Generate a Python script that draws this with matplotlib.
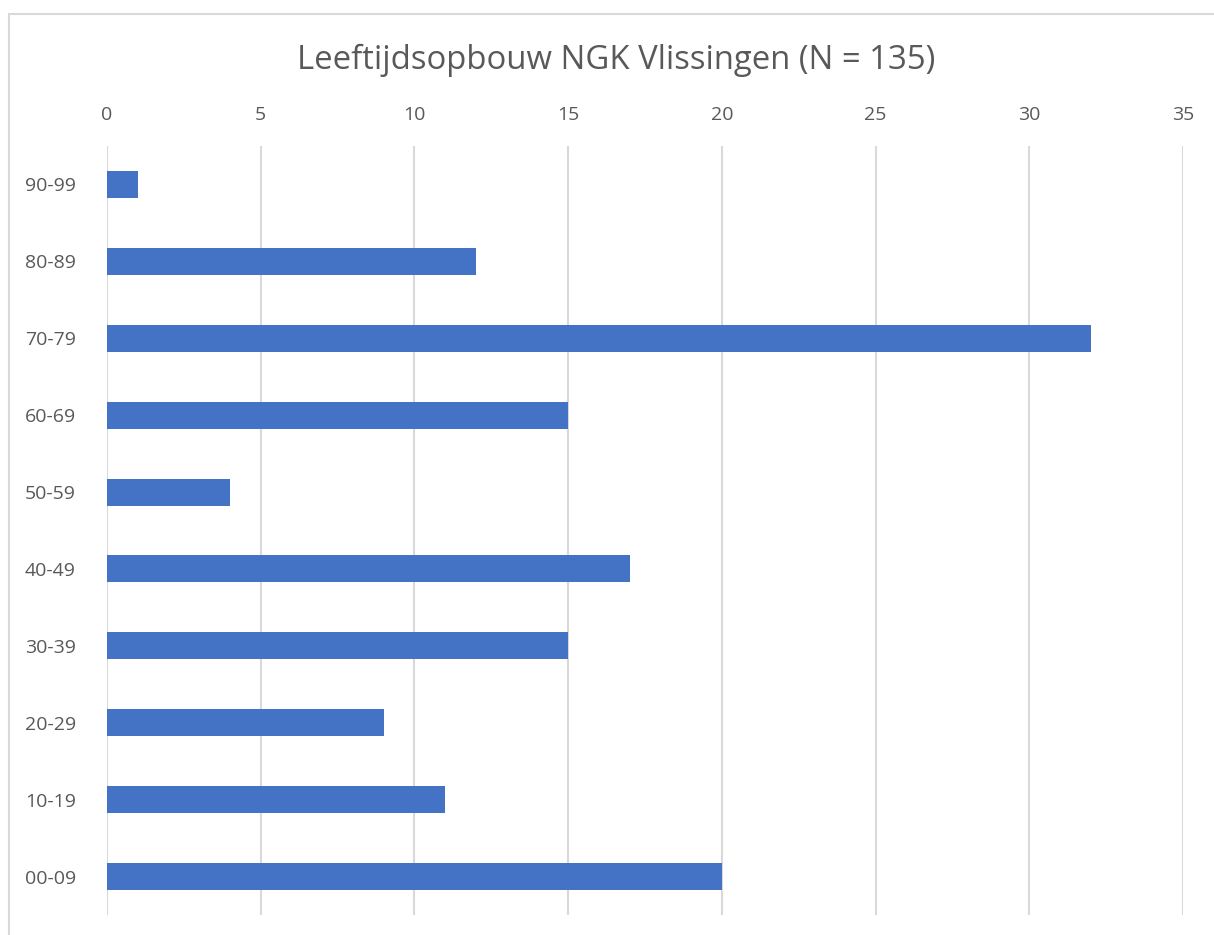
import matplotlib.pyplot as plt
from matplotlib.patches import Rectangle

# === DATA ===
age_groups = ["00-09", "10-19", "20-29", "30-39", "40-49",
              "50-59", "60-69", "70-79", "80-89", "90-99"]
counts = [20, 11, 9, 15, 17, 4, 15, 32, 12, 1]
x_ticks = [0, 5, 10, 15, 20, 25, 30, 35]

plt.rcParams["font.family"] = ["Open Sans", "DejaVu Sans"]

fig = plt.figure(figsize=(12.14, 9.35), dpi=100)
ax = fig.add_axes([107 / 1214, 1 - 915 / 935, 1076 / 1214, 769 / 935])

# chart border (cropped on the right and bottom)
fig.patches.append(Rectangle((9 / 1214, -0.1), 1.2, (935 - 14) / 935 + 0.1,
                             transform=fig.transFigure, fill=False,
                             edgecolor="#d9d9d9", linewidth=1.5))

ax.barh(range(len(age_groups)), counts, height=0.35, color="#4472c4", zorder=3)

ax.set_xlim(0, 35)
ax.set_ylim(-0.5, len(age_groups) - 0.5)
ax.set_xticks(x_ticks)
ax.set_yticks(range(len(age_groups)))
ax.set_yticklabels(age_groups)

ax.grid(axis="x", color="#d9d9d9", linewidth=1.5, zorder=0)
for s in ax.spines.values():
    s.set_visible(False)

ax.tick_params(axis="x", top=False, bottom=False, labeltop=True, labelbottom=False,
               labelsize=14, labelcolor="#595959", pad=12)
ax.tick_params(axis="y", left=False, labelsize=14, labelcolor="#595959", pad=19)

fig.text(616 / 1214, 1 - 60 / 935, "Leeftijdsopbouw NGK Vlissingen (N = 135)",
         ha="center", va="center", fontsize=23.7, color="#595959")

fig.savefig("out.png", dpi=100)
